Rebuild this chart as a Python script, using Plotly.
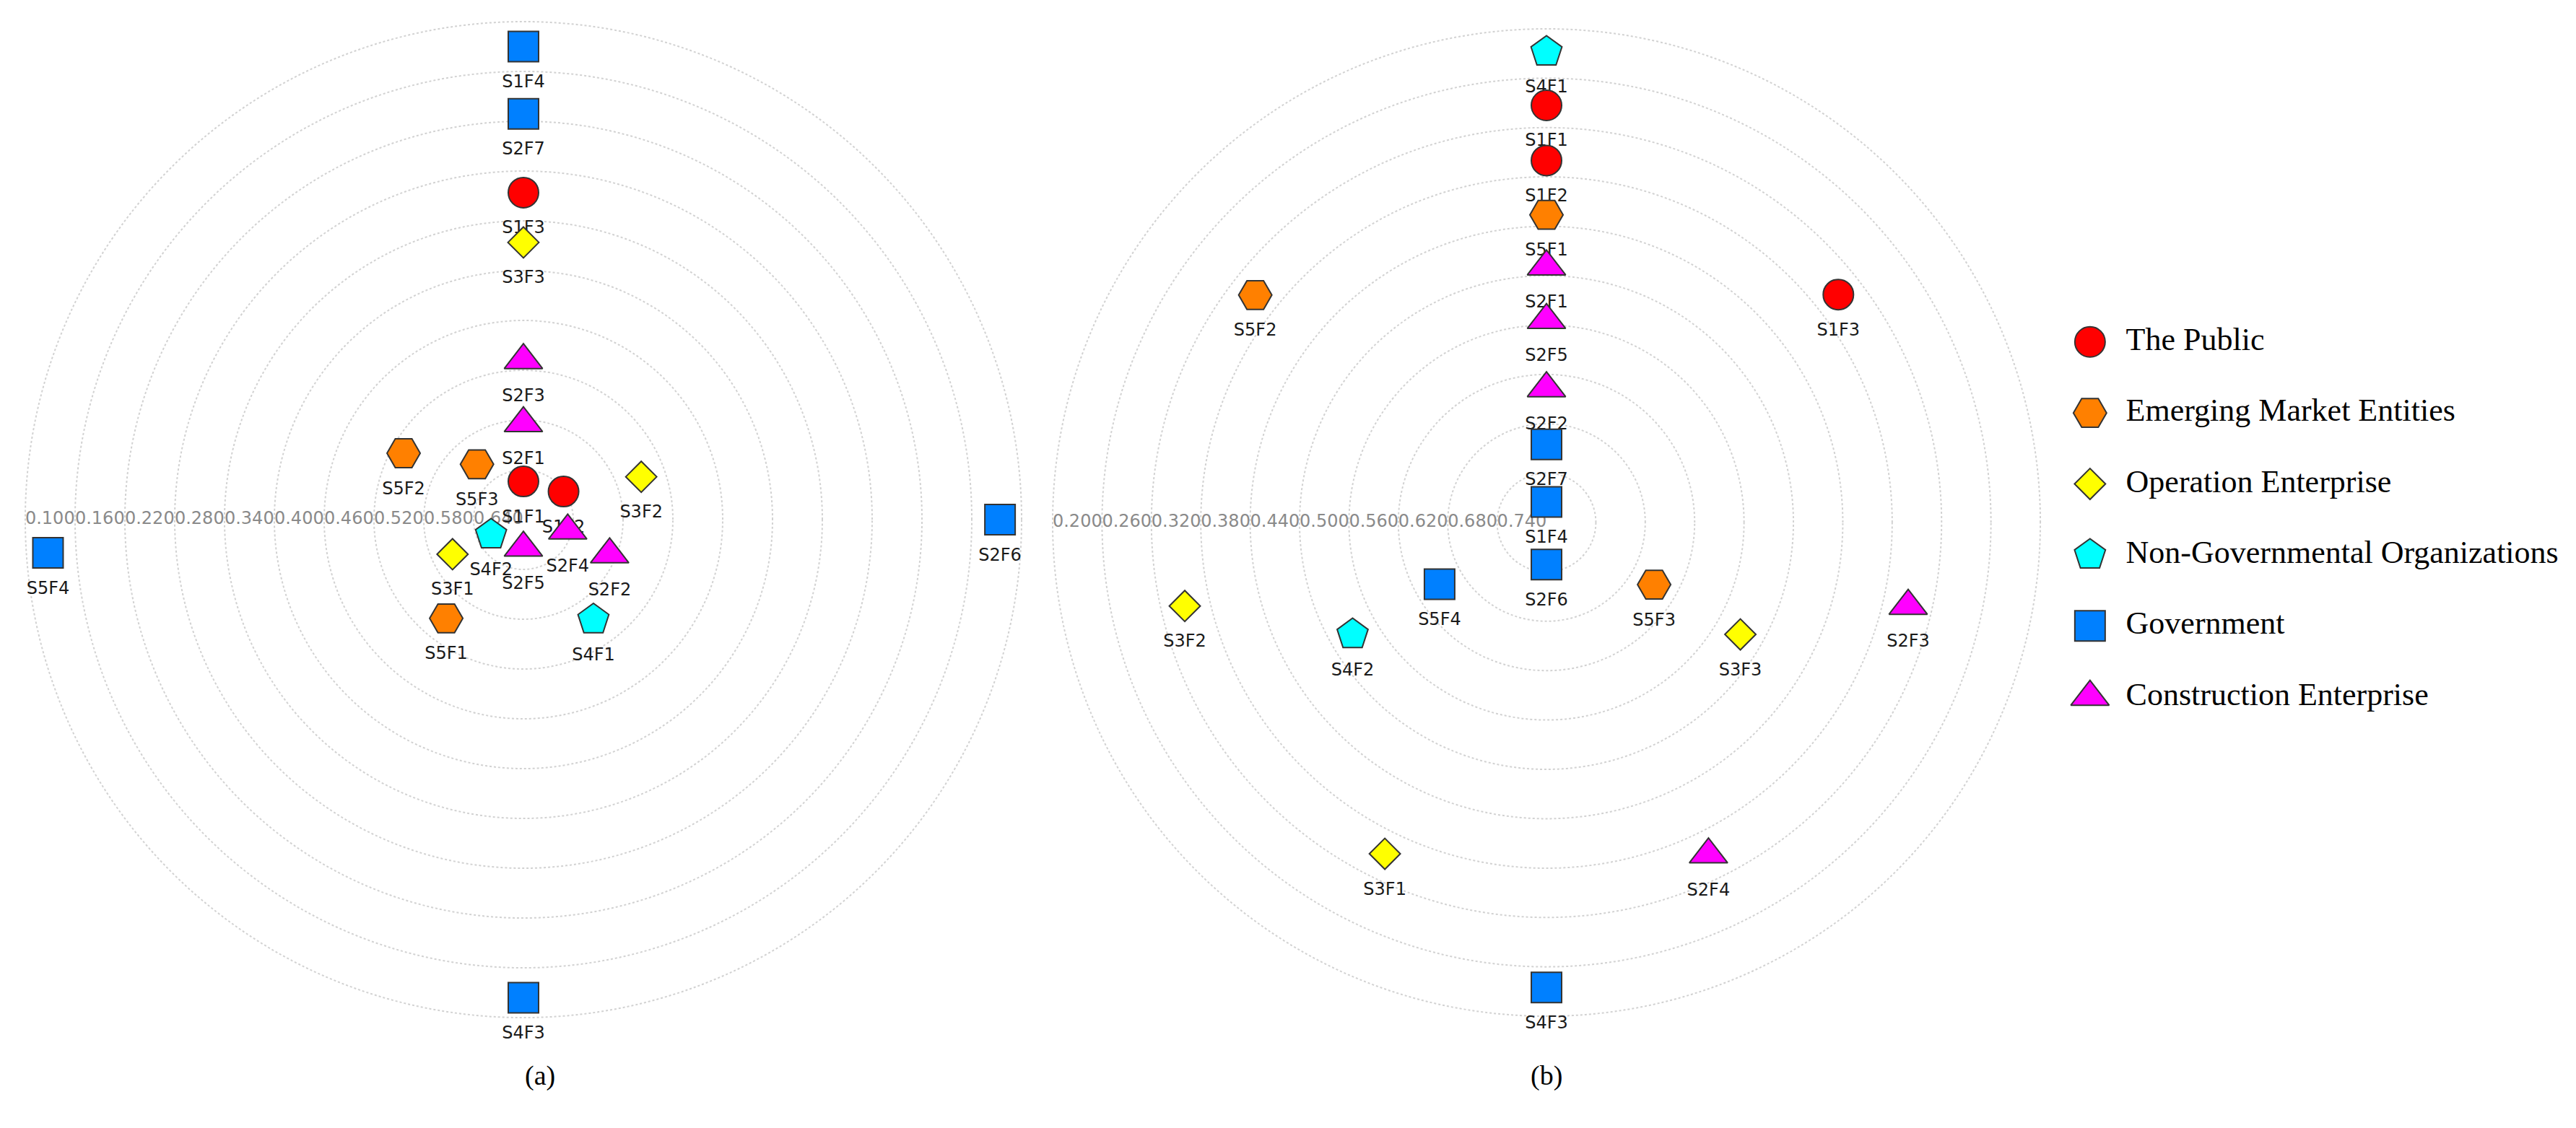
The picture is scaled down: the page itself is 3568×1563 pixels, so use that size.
import plotly.graph_objects as go

# stakeholder groups (legend order)
GROUPS = ["The Public", "Emerging Market Entities", "Operation Enterprise",
          "Non-Governmental Organizations", "Government", "Construction Enterprise"]
GROUP_COLORS = ["#FF0000", "#FF8000", "#FFFF00", "#00FFFF", "#0080FF", "#FF00FF"]
GROUP_SYMBOLS = ["circle", "hexagon2", "diamond", "pentagon", "square", "triangle-up"]
GROUP_SIZES = [42, 46, 33, 45, 42, 46]

# chart (a): radial value (centre = 0.70, outer ring = 0.10) and angle in degrees
A_LABELS = ["S1F4", "S2F7", "S1F3", "S3F3", "S2F3", "S2F1", "S5F2", "S5F3", "S1F1", "S1F2", "S3F2",
            "S4F2", "S2F4", "S2F5", "S3F1", "S2F2", "S5F1", "S4F1", "S5F4", "S2F6", "S4F3"]
A_GROUP = [4, 4, 0, 2, 5, 5, 1, 1, 0, 0, 2,
           3, 5, 5, 2, 5, 1, 3, 4, 4, 4]
A_VALUES = [0.130, 0.211, 0.306, 0.366, 0.508, 0.584, 0.535, 0.613, 0.654, 0.641, 0.549,
            0.657, 0.645, 0.666, 0.605, 0.588, 0.549, 0.553, 0.126, 0.126, 0.124]
A_ANGLES = [90, 90, 90, 90, 90, 90, 151, 130, 90, 35, 20,
            205, 346, 270, 206, 338, 232, 305, 184, 0, 270]
A_TICKS = [0.100, 0.160, 0.220, 0.280, 0.340, 0.400, 0.460, 0.520, 0.580, 0.640]

# chart (b): centre = 0.80, outer ring = 0.20
B_LABELS = ["S4F1", "S1F1", "S1F2", "S5F1", "S2F1", "S2F5", "S2F2", "S2F7", "S1F4", "S2F6", "S5F2",
            "S1F3", "S3F2", "S4F2", "S5F4", "S5F3", "S3F3", "S2F3", "S3F1", "S2F4", "S4F3"]
B_GROUP = [3, 0, 0, 1, 5, 5, 5, 4, 4, 4, 1,
           0, 2, 3, 4, 1, 2, 5, 2, 5, 4]
B_VALUES = [0.228, 0.293, 0.360, 0.426, 0.489, 0.554, 0.637, 0.705, 0.775, 0.749, 0.351,
            0.350, 0.349, 0.528, 0.650, 0.649, 0.528, 0.349, 0.352, 0.351, 0.235]
B_ANGLES = [90, 90, 90, 90, 90, 90, 90, 90, 90, 270, 142,
            38, 193, 210, 210, 330, 330, 347, 244, 296, 270]
B_TICKS = [0.200, 0.260, 0.320, 0.380, 0.440, 0.500, 0.560, 0.620, 0.680, 0.740]

LABEL_FONT = dict(family="DejaVu Sans", size=24, color="#1a1a1a")
SERIF = "Liberation Serif"

fig = go.Figure()


def add_chart(subplot, labels, groups, values, angles, ticks):
    # radial tick labels drawn along the left horizontal radius
    fig.add_trace(go.Scatterpolar(
        r=ticks, theta=[180] * len(ticks), mode="text",
        text=[f"{t:.3f}" for t in ticks], textposition="middle right",
        textfont=dict(family="DejaVu Sans", size=24, color="#8a8a8a"),
        subplot=subplot, hoverinfo="skip", cliponaxis=False
    ))
    # point labels under the markers
    fig.add_trace(go.Scatterpolar(
        r=values, theta=angles, mode="markers+text", text=labels,
        textposition="bottom center", textfont=LABEL_FONT,
        marker=dict(size=60, opacity=0),
        subplot=subplot, hoverinfo="skip", cliponaxis=False
    ))
    for g, name in enumerate(GROUPS):
        idx = [i for i, grp in enumerate(groups) if grp == g]
        fig.add_trace(go.Scatterpolar(
            r=[values[i] for i in idx],
            theta=[angles[i] for i in idx],
            mode="markers",
            name=name,
            marker=dict(symbol=GROUP_SYMBOLS[g], color=GROUP_COLORS[g], size=GROUP_SIZES[g],
                        opacity=1, line=dict(color="#333333", width=2)),
            subplot=subplot, cliponaxis=False,
            hovertemplate="%{text}: %{r:.3f}<extra></extra>",
            text=[labels[i] for i in idx]
        ))


add_chart("polar", A_LABELS, A_GROUP, A_VALUES, A_ANGLES, A_TICKS)
add_chart("polar2", B_LABELS, B_GROUP, B_VALUES, B_ANGLES, B_TICKS)

# custom legend with large symbols
fig.add_trace(go.Scatter(
    x=[0] * len(GROUPS), y=GROUPS, mode="markers+text", text=GROUPS,
    textposition="middle right", textfont=dict(family=SERIF, size=44, color="black"),
    marker=dict(size=78, opacity=0), xaxis="x", yaxis="y", hoverinfo="skip", cliponaxis=False
))
fig.add_trace(go.Scatter(
    x=[0] * len(GROUPS), y=GROUPS, mode="markers",
    marker=dict(symbol=GROUP_SYMBOLS, color=GROUP_COLORS, size=GROUP_SIZES, opacity=1,
                line=dict(color="#333333", width=2)),
    xaxis="x", yaxis="y", hoverinfo="skip", cliponaxis=False
))


def polar_style(x_dom, y_dom, center, outer, ticks):
    return dict(
        domain=dict(x=x_dom, y=y_dom),
        bgcolor="white",
        radialaxis=dict(range=[center, outer], tickvals=ticks, showticklabels=False,
                        ticks="", showline=False, showgrid=True, gridcolor="#d2d2d2",
                        griddash="dot", gridwidth=1.5),
        angularaxis=dict(showgrid=False, showticklabels=False, ticks="", showline=False,
                         rotation=0, direction="counterclockwise"),
    )


fig.update_layout(
    width=3568, height=1563,
    margin=dict(l=0, r=0, t=0, b=0),
    paper_bgcolor="white", plot_bgcolor="white",
    showlegend=False,
    polar=polar_style([0.0069, 0.3950], [0.1015, 0.9874], 0.70, 0.098, A_TICKS),
    polar2=polar_style([0.4057, 0.7905], [0.1028, 0.9810], 0.80, 0.198, B_TICKS),
    xaxis=dict(domain=[0.79, 1.0], range=[-0.1, 1], visible=False),
    yaxis=dict(domain=[0.3558, 0.7335], range=[5.5, -0.5], visible=False, type="category"),
    annotations=[
        dict(text="(a)", x=0.2010, y=0.0365, xref="paper", yref="paper", showarrow=False,
             font=dict(family=SERIF, size=38, color="black")),
        dict(text="(b)", x=0.5981, y=0.0365, xref="paper", yref="paper", showarrow=False,
             font=dict(family=SERIF, size=38, color="black")),
    ],
)

fig.write_html("out.html")
